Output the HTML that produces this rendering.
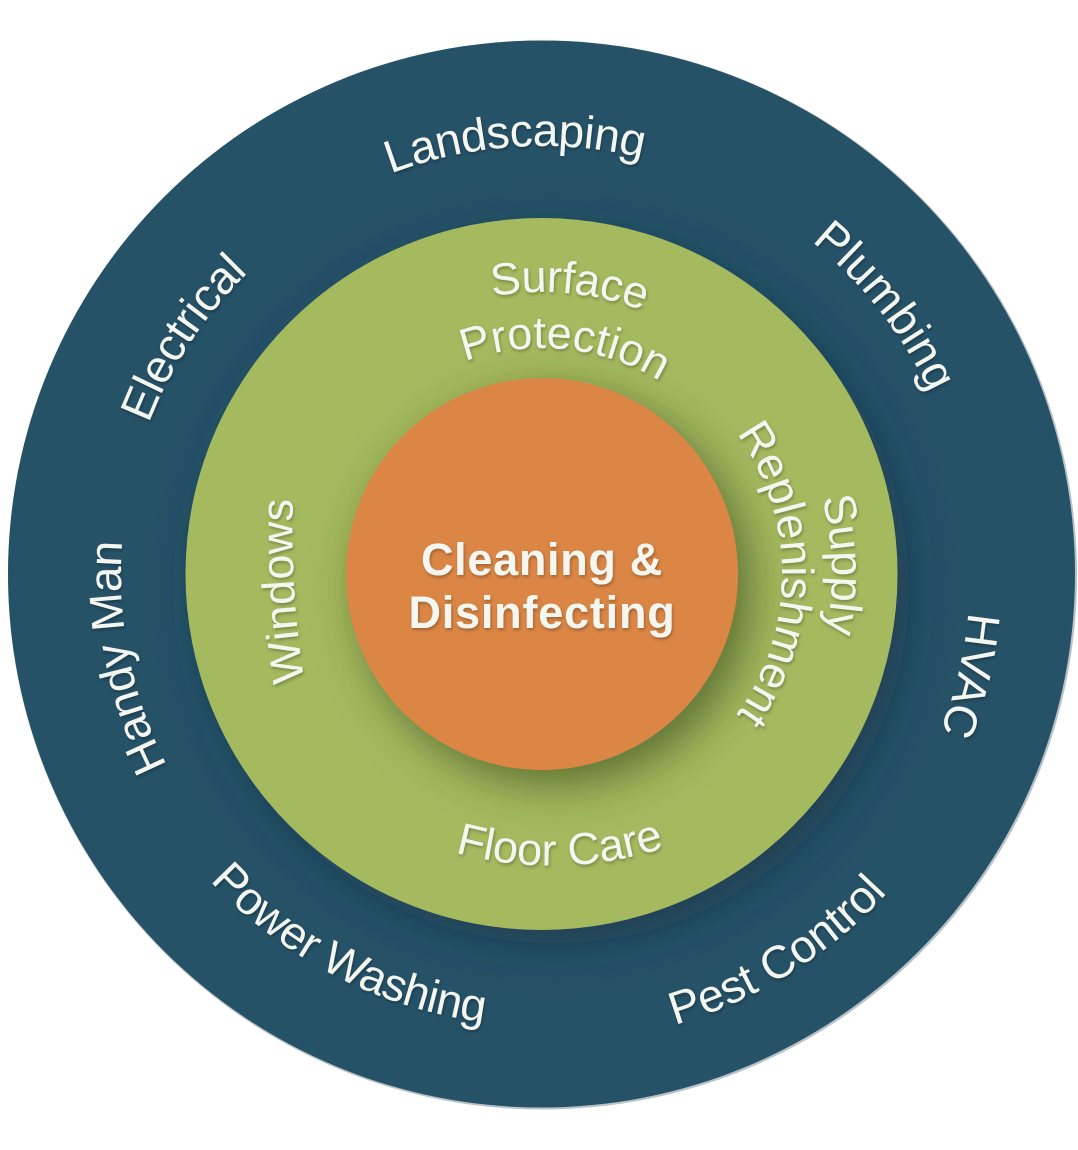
<!DOCTYPE html>
<html>
<head>
<meta charset="utf-8">
<style>
html,body{margin:0;padding:0;background:#fff;width:1078px;height:1150px;overflow:hidden}
svg{display:block}
text{font-family:"Liberation Sans",sans-serif;fill:#f4f6f0}
</style>
</head>
<body>
<svg width="1078" height="1150" viewBox="0 0 1078 1150" xmlns="http://www.w3.org/2000/svg">
<defs>
<filter id="s1" x="-30%" y="-30%" width="170%" height="170%"><feDropShadow dx="12" dy="14" stdDeviation="26" flood-color="#0a2c3e" flood-opacity=".5"/></filter>
<filter id="s2" x="-40%" y="-40%" width="190%" height="190%"><feDropShadow dx="13" dy="15" stdDeviation="22" flood-color="#36491c" flood-opacity=".65"/></filter>
<filter id="t" x="-10%" y="-10%" width="120%" height="120%"><feDropShadow dx="1" dy="2" stdDeviation="1.5" flood-color="#000" flood-opacity=".28"/></filter>
<path id="c428" d="M542,1002A428,428 0 1 1 542,146A428,428 0 1 1 542,1002"/>
<path id="c421" d="M542,995A421,421 0 1 1 542,153A421,421 0 1 1 542,995"/>
<path id="c290" d="M542,864A290,290 0 1 1 542,284A290,290 0 1 1 542,864"/>
<path id="c282" d="M542,856A282,282 0 1 1 542,292A282,282 0 1 1 542,856"/>
<path id="c226" d="M542,800A226,226 0 1 1 542,348A226,226 0 1 1 542,800"/>
<path id="c240" d="M542,814A240,240 0 1 1 542,334A240,240 0 1 1 542,814"/>
<path id="win" d="M307.5,700A960,960 0 0 1 293.8,480"/>
<path id="b470" d="M542,104A470,470 0 1 0 542,1044A470,470 0 1 0 542,104"/>
<path id="b452" d="M542,122A452,452 0 1 0 542,1026A452,452 0 1 0 542,122"/>
<path id="floor" d="M400,832A360,360 0 0 0 710,829"/>
</defs>
<circle cx="542.5" cy="575" r="534.5" fill="#b9c2c8"/>
<circle cx="541.5" cy="574" r="533.5" fill="#265268"/>
<circle cx="541.5" cy="574" r="356" fill="#a5b95f" filter="url(#s1)"/>
<circle cx="542" cy="574" r="196" fill="#db8644" filter="url(#s2)"/>
<g filter="url(#t)" font-size="46" letter-spacing="-.5" text-anchor="middle">
<text><textPath href="#c428" startOffset="49%">Landscaping</textPath></text>
<text><textPath href="#c428" startOffset="64.45%" letter-spacing=".3">Plumbing</textPath></text>
<text><textPath href="#c428" startOffset="78.7%">HVAC</textPath></text>
<text><textPath href="#c421" startOffset="34.25%">Electrical</textPath></text>
<text><textPath href="#c421" startOffset="21.85%">Handy Man</textPath></text>
<text><textPath href="#b470" startOffset="58.85%" letter-spacing="0">Pest Control</textPath></text>
<text><textPath href="#b452" startOffset="42.4%">Power Washing</textPath></text>
</g>
<g filter="url(#t)" font-size="45" letter-spacing="-.3" text-anchor="middle">
<text><textPath href="#c282" startOffset="51.5%">Surface</textPath></text>
<text><textPath href="#c226" startOffset="51.6%" letter-spacing="0">Protection</textPath></text>
<text><textPath href="#c290" startOffset="74.5%">Supply</textPath></text>
<text><textPath href="#c240" startOffset="75%" letter-spacing="0">Replenishment</textPath></text>
<text><textPath href="#win" startOffset="50%" letter-spacing="0">Windows</textPath></text>
<text><textPath href="#floor" startOffset="51.5%" letter-spacing="0">Floor Care</textPath></text>
</g>
<g filter="url(#t)" font-size="45" font-weight="700" text-anchor="middle">
<text x="542" y="575" letter-spacing=".7">Cleaning &amp;</text>
<text x="542" y="628" letter-spacing=".8">Disinfecting</text>
</g>
</svg>
</body>
</html>
